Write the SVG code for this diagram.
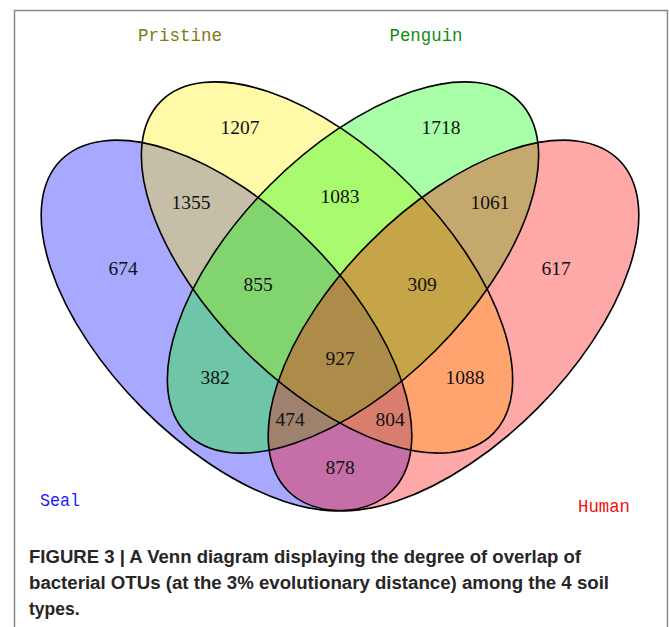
<svg xmlns="http://www.w3.org/2000/svg" xmlns:xlink="http://www.w3.org/1999/xlink" width="669" height="627" viewBox="0 0 669 627">
<style>
.set{fill-opacity:0.34;stroke:none}
.outline{fill:none;stroke:#000;stroke-width:1.6}
.num{font-family:"Liberation Serif",serif;font-size:19.5px;fill:#111;text-anchor:middle}
.lab{font-family:"Liberation Mono",monospace;font-size:19px;text-anchor:middle}
.cap{font-family:"Liberation Sans",Arial,sans-serif;font-weight:bold;font-size:17.5px;fill:#262626}
</style>
<defs>
<ellipse id="eSeal" cx="0" cy="0" rx="234" ry="118" transform="translate(226.5,325.5) rotate(45)"/>
<ellipse id="ePristine" cx="0" cy="0" rx="235" ry="117" transform="translate(327,267.5) rotate(45)"/>
<ellipse id="ePenguin" cx="0" cy="0" rx="235" ry="117" transform="translate(353,267.5) rotate(-45)"/>
<ellipse id="eHuman" cx="0" cy="0" rx="234" ry="118" transform="translate(453.5,325.5) rotate(-45)"/>
</defs>
<rect x="0" y="0" width="669" height="627" fill="#fff"/>
<rect x="14.5" y="10.5" width="653" height="640" fill="none" stroke="#8a8a8a" stroke-width="1.5"/>
<g id="seal">
<use xlink:href="#eSeal" class="set" fill="#0000ff"/>
<text class="lab" x="60" y="506" fill="#1a1aff" textLength="40" lengthAdjust="spacingAndGlyphs">Seal</text>
</g>
<g id="pristine">
<use xlink:href="#ePristine" class="set" fill="#ffee00"/>
<text class="lab" x="180" y="41" fill="#7d7a10" textLength="84" lengthAdjust="spacingAndGlyphs">Pristine</text>
</g>
<g id="penguin">
<use xlink:href="#ePenguin" class="set" fill="#00ff00"/>
<text class="lab" x="426" y="41" fill="#128c12" textLength="73" lengthAdjust="spacingAndGlyphs">Penguin</text>
</g>
<g id="human">
<use xlink:href="#eHuman" class="set" fill="#ff0000"/>
<text class="lab" x="604" y="512" fill="#ee1111" textLength="52" lengthAdjust="spacingAndGlyphs">Human</text>
</g>
<g id="outlines">
<use xlink:href="#eSeal" class="outline"/>
<use xlink:href="#ePristine" class="outline"/>
<use xlink:href="#ePenguin" class="outline"/>
<use xlink:href="#eHuman" class="outline"/>
</g>
<g id="counts">
<text class="num" x="240" y="134">1207</text>
<text class="num" x="441" y="134">1718</text>
<text class="num" x="191" y="209">1355</text>
<text class="num" x="340" y="203">1083</text>
<text class="num" x="490" y="209">1061</text>
<text class="num" x="123" y="275">674</text>
<text class="num" x="556" y="275">617</text>
<text class="num" x="258" y="291">855</text>
<text class="num" x="422" y="291">309</text>
<text class="num" x="340" y="365">927</text>
<text class="num" x="215" y="384">382</text>
<text class="num" x="465" y="384">1088</text>
<text class="num" x="290" y="426">474</text>
<text class="num" x="390" y="426">804</text>
<text class="num" x="340" y="474">878</text>
</g>
<g id="caption">
<text class="cap" x="29" y="563" textLength="552" lengthAdjust="spacingAndGlyphs">FIGURE 3 | A Venn diagram displaying the degree of overlap of</text>
<text class="cap" x="29" y="589" textLength="580" lengthAdjust="spacingAndGlyphs">bacterial OTUs (at the 3% evolutionary distance) among the 4 soil</text>
<text class="cap" x="29" y="615">types.</text>
</g>
</svg>
